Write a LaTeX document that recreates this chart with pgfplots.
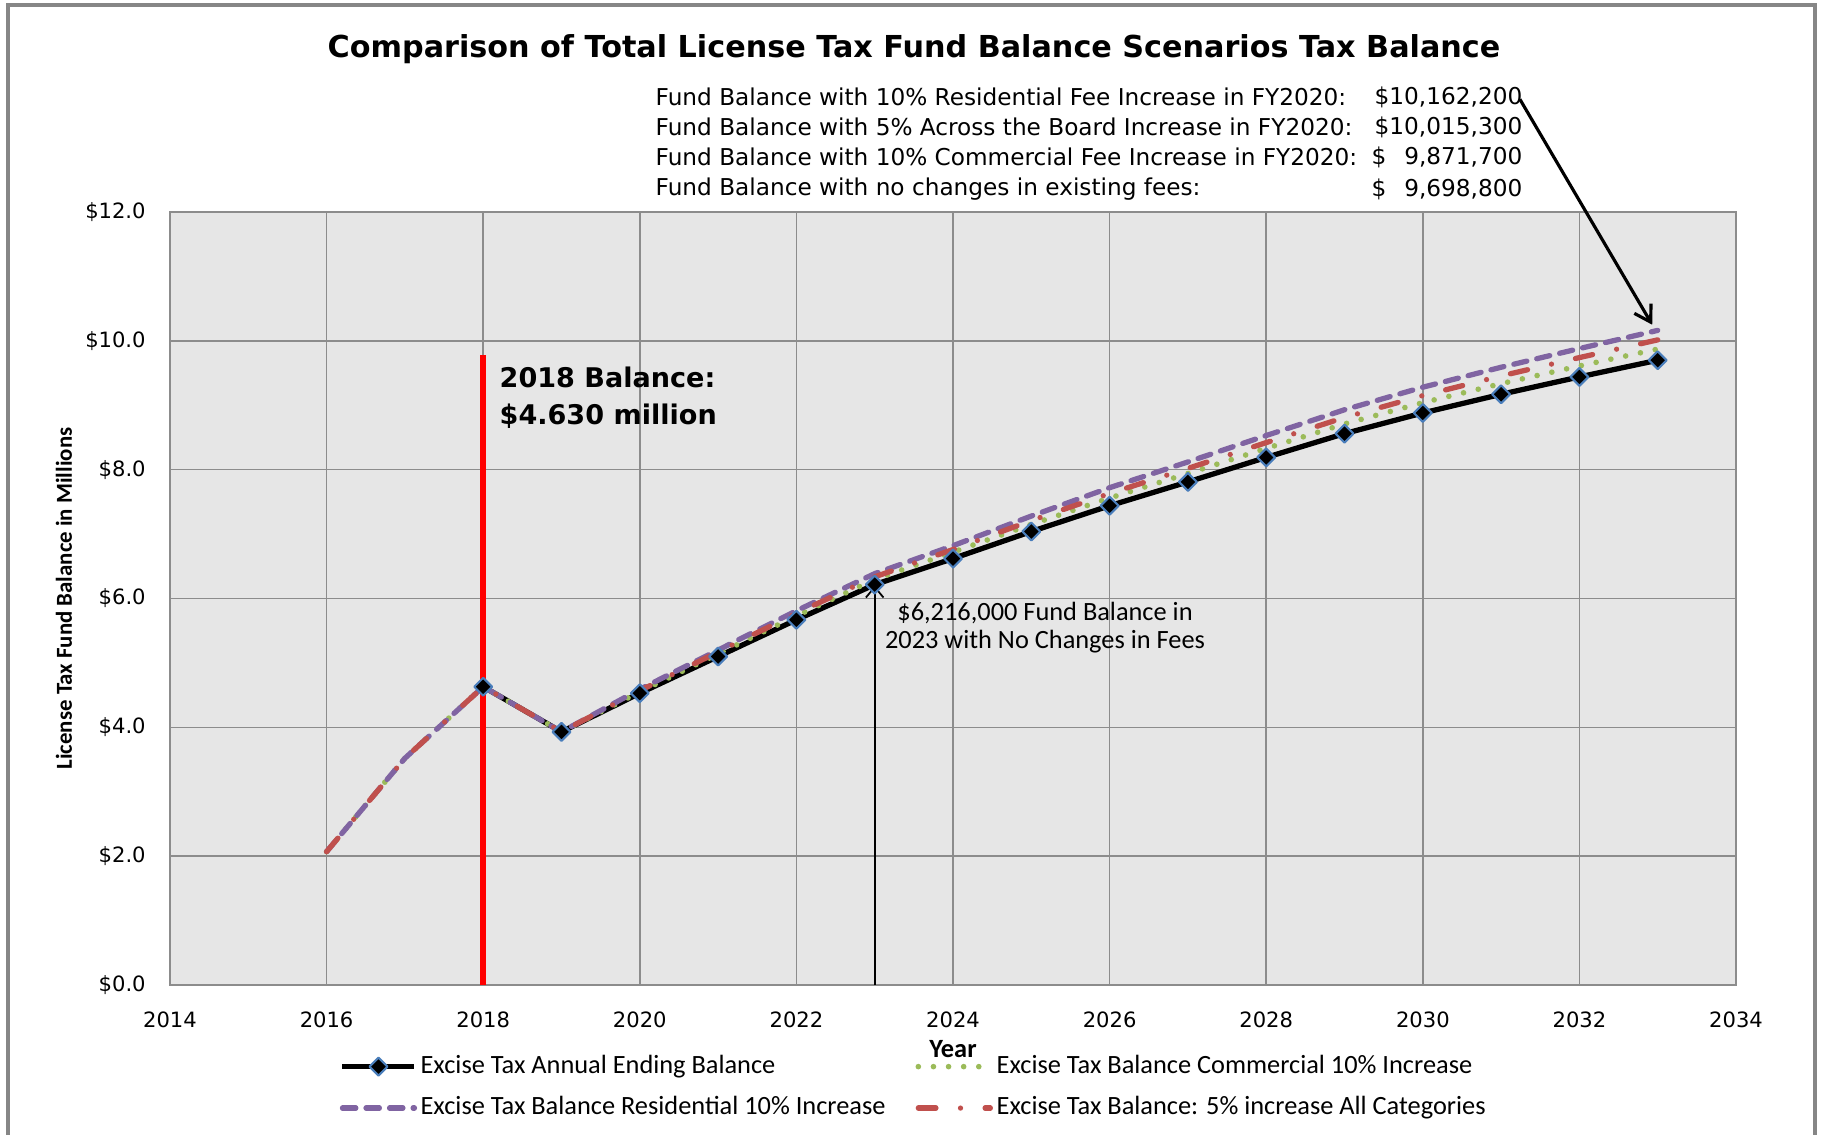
\documentclass[border=0pt]{standalone}
\usepackage{pgfplots}
\pgfplotsset{compat=1.18}
\usepackage{pgfplotstable}
\usepackage{fontspec}
\setmainfont{DejaVu Sans}
\newfontfamily\carlito{Carlito}
\usetikzlibrary{arrows.meta}
\definecolor{bggray}{RGB}{230,230,230}
\definecolor{gridgray}{RGB}{140,140,140}
\definecolor{frgray}{RGB}{134,134,134}
\definecolor{xlpurple}{RGB}{128,100,162}
\definecolor{xlgreen}{RGB}{155,187,89}
\definecolor{xlred}{RGB}{192,80,77}
\definecolor{xlblue}{RGB}{74,126,187}

\pgfplotstableread{
year bal
2018 4.63
2019 3.93
2020 4.53
2021 5.10
2022 5.67
2023 6.216
2024 6.62
2025 7.04
2026 7.44
2027 7.81
2028 8.19
2029 8.56
2030 8.88
2031 9.17
2032 9.44
2033 9.699
}\baseline

\pgfplotstableread{
year bal
2016 2.07
2017 3.52
2018 4.63
2019 3.93
2020 4.55
2021 5.14
2022 5.73
2023 6.296
2024 6.72
2025 7.15
2026 7.56
2027 7.94
2028 8.33
2029 8.71
2030 9.04
2031 9.335
2032 9.61
2033 9.872
}\commercial

\pgfplotstableread{
year bal
2016 2.07
2017 3.52
2018 4.63
2019 3.93
2020 4.59
2021 5.20
2022 5.81
2023 6.386
2024 6.82
2025 7.28
2026 7.72
2027 8.12
2028 8.53
2029 8.93
2030 9.28
2031 9.59
2032 9.88
2033 10.162
}\residential

\pgfplotstableread{
year bal
2016 2.07
2017 3.52
2018 4.63
2019 3.93
2020 4.57
2021 5.17
2022 5.77
2023 6.336
2024 6.76
2025 7.21
2026 7.63
2027 8.02
2028 8.42
2029 8.81
2030 9.15
2031 9.455
2032 9.74
2033 10.015
}\fivepct

\begin{document}
\begin{tikzpicture}
\useasboundingbox (-1.70,-1.49) rectangle (16.57,9.85);
\draw[frgray, line width=0.9pt] (-1.62,-1.7) -- (-1.62,9.80) -- (16.45,9.80) -- (16.45,-1.7);
\begin{axis}[
  at={(0,0)}, anchor=south west,
  scale only axis, width=15.66cm, height=7.73cm,
  xmin=2014, xmax=2034, ymin=0, ymax=12,
  xtick={2014,2016,...,2034}, ytick={0,2,...,12},
  grid=major, major grid style={gridgray, line width=0.45pt},
  axis line style={gridgray, line width=0.5pt},
  axis background/.style={fill=bggray},
  major tick length=0pt,
  tick label style={font=\fontsize{6}{7}\selectfont, /pgf/number format/assume math mode=true},
  xticklabel style={/pgf/number format/1000 sep={}, yshift=-4pt},
  yticklabel={\$\pgfmathprintnumber[fixed,fixed zerofill,precision=1,assume math mode=true]{\tick}},
  yticklabel style={xshift=-3.4pt},
  xlabel={Year},
  xlabel style={font=\carlito\bfseries\fontsize{7.5}{9}\selectfont, at={(axis description cs:0.5,-0.0828)}, anchor=center},
  ylabel={License Tax Fund Balance in Millions},
  ylabel style={font=\carlito\bfseries\fontsize{6.5}{8}\selectfont, at={(axis description cs:-0.0677,0.5)}, anchor=center},
  clip=false,
  legend columns=2,
  legend cell align=left,
  legend image code/.code={\draw[mark repeat=2,mark phase=2,#1] plot coordinates {(0cm,0cm) (0.36cm,0cm) (0.72cm,0cm)};},
  legend style={draw=none, fill=none, at={(axis description cs:0.108,-0.089)}, anchor=north west,
    inner sep=0pt, row sep=4.9pt,
    nodes={inner sep=0pt, font=\carlito\fontsize{7.5}{9}\selectfont, text height=5.3pt, text depth=1.6pt},
    /tikz/every odd column/.append style={column sep=1pt},
    /tikz/every even column/.append style={column sep=0.3cm}},
]
\addplot[black, line width=1.5pt, line join=round, mark=square*, mark size=1.8pt,
  mark options={rotate=45, solid, fill=black, draw=xlblue, line width=0.6pt}]
  table[x=year,y=bal]{\baseline};
\addlegendentry{Excise Tax Annual Ending Balance}
\addplot[xlgreen, line width=1.6pt, line cap=round, dash pattern=on 0pt off 4.3pt]
  table[x=year,y=bal]{\commercial};
\addlegendentry{Excise Tax Balance Commercial 10\% Increase}
\addplot[xlpurple, line width=1.5pt, line cap=round, line join=round, dash pattern=on 3.8pt off 2.9pt]
  table[x=year,y=bal]{\residential};
\addlegendentry{Excise Tax Balance Residential 10\% Increase}
\addplot[xlred, line width=1.5pt, line cap=round, line join=round, dash pattern=on 5pt off 7pt on 0pt off 7pt]
  table[x=year,y=bal]{\fivepct};
\addlegendentry{Excise Tax Balance: 5\% increase All Categories}
\addplot[red, line width=1.8pt, forget plot] coordinates {(2018,0) (2018,9.78)};
\draw[black, line width=0.5pt, -{Straight Barb[length=3pt,width=5pt]}] (axis cs:2023,0) -- (axis cs:2023,6.2);
\draw[black, line width=0.9pt, -{Straight Barb[length=4.5pt,width=5.5pt]}] (axis cs:2031.24,13.75) -- (axis cs:2032.93,10.25);
\end{axis}
% title
\node[font=\bfseries\fontsize{8.6}{10}\selectfont] at (7.44,9.36) {Comparison of Total License Tax Fund Balance Scenarios Tax Balance};
% top annotation
\begin{scope}[every node/.style={inner sep=0pt, font=\fontsize{6.6}{8}\selectfont}]
\node[anchor=west] at (4.85,8.88) {Fund Balance with 10\% Residential Fee Increase in FY2020:};
\node[anchor=west] at (4.85,8.58) {Fund Balance with 5\% Across the Board Increase in FY2020:};
\node[anchor=west] at (4.85,8.28) {Fund Balance with 10\% Commercial Fee Increase in FY2020:};
\node[anchor=west] at (4.85,7.96) {Fund Balance with no changes in existing fees:};
\node[anchor=east] at (13.53,8.88) {\$10,162,200};
\node[anchor=east] at (13.53,8.58) {\$10,015,300};
\node[anchor=west] at (12.01,8.28) {\$};
\node[anchor=east] at (13.53,8.28) {9,871,700};
\node[anchor=west] at (12.01,7.96) {\$};
\node[anchor=east] at (13.53,7.96) {9,698,800};
\end{scope}
% 2018 balance
\node[anchor=west, inner sep=0pt, align=left, font=\bfseries\fontsize{7.7}{10.5}\selectfont] at (3.29,5.875) {2018 Balance:\\\$4.630 million};
% 2023 note
\node[inner sep=0pt, align=center, font=\carlito\fontsize{7.5}{8}\selectfont] at (8.75,3.57) {\$6,216,000 Fund Balance in\\2023 with No Changes in Fees};
\end{tikzpicture}
\end{document}
